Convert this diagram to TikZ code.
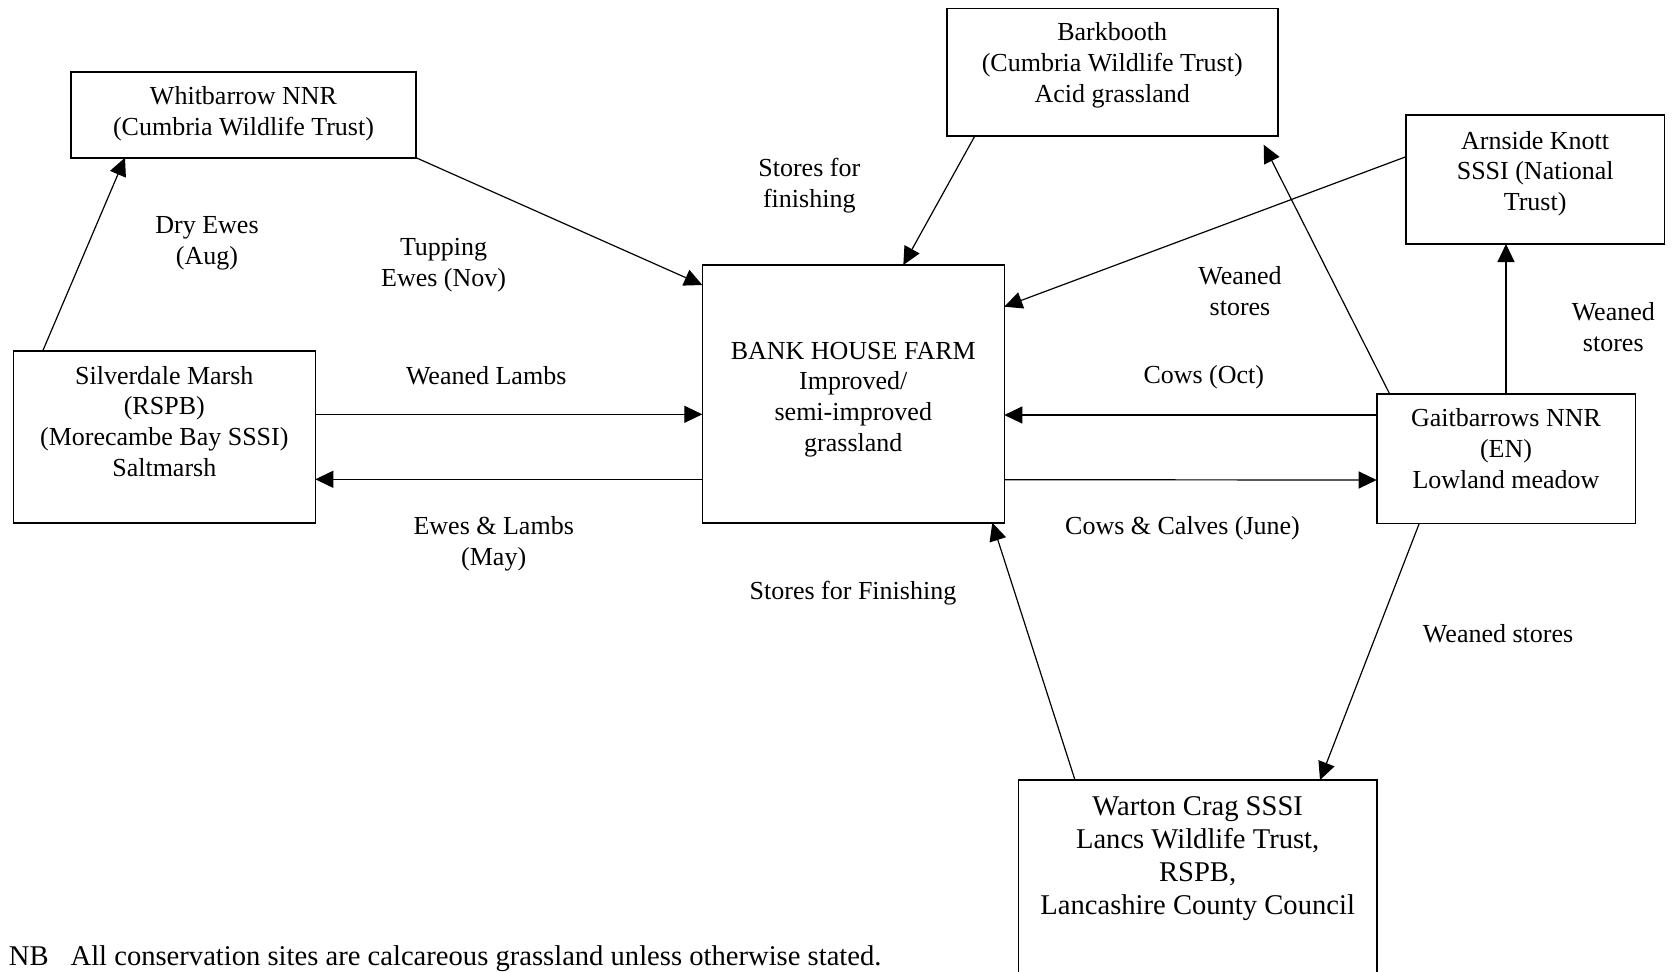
\documentclass[tikz,border=0pt]{standalone}
\usepackage{fontspec}
\setmainfont{Liberation Serif}
\usetikzlibrary{calc, arrows.meta}

% width, height, first baseline, lines
\newcommand{\sitebox}[4]{\parbox[c][#2][t]{#1}{\centering\rule{0pt}{#3}#4}}

\begin{document}
\begin{tikzpicture}
          [
            x=0.5pt, y=-0.5pt,
            site/.style={draw, line width=0.8pt, inner sep=0pt, outer sep=0pt,
              font=\fontsize{13}{15.35}\selectfont},
            bigsite/.style={site, font=\fontsize{14.3}{16.65}\selectfont},
            flowlabel/.style={align=center, inner sep=0pt,
              font=\fontsize{13}{15.35}\selectfont},
            flow/.style={line width=0.6pt, -{Triangle[length=9pt,width=8.5pt]}}
          ]
          \useasboundingbox (0,0) rectangle (1672,971);
          \clip (0,0) rectangle (1672,971);
          % sites
          \node [site] (whit) at (243.5,114.85)
            {\sitebox{172.5pt}{42.85pt}{16.3pt}{Whitbarrow NNR\\(Cumbria Wildlife Trust)}};
          \node [site] (bark) at (1112.2,72)
            {\sitebox{165.5pt}{63.7pt}{16.3pt}{Barkbooth\\(Cumbria Wildlife Trust)\\Acid grassland}};
          \node [site] (arn) at (1535.15,179.5)
            {\sitebox{129.15pt}{64.5pt}{17pt}{Arnside Knott\\SSSI (National\\Trust)}};
          \node [site] (silv) at (164.3,436.85)
            {\sitebox{151pt}{85.85pt}{16.6pt}{Silverdale Marsh\\(RSPB)\\(Morecambe Bay SSSI)\\Saltmarsh}};
          \node [site] (bank) at (853.3,393.85)
            {\sitebox{151pt}{128.85pt}{47pt}{BANK HOUSE FARM\\Improved/\\semi-improved\\grassland}};
          \node [site] (gait) at (1506,458.65)
            {\sitebox{129.3pt}{64.65pt}{16.4pt}{Gaitbarrows NNR\\(EN)\\Lowland meadow}};
          \node [bigsite] (wart) at (1197.65,910)
            {\sitebox{179.35pt}{130pt}{17.5pt}{Warton Crag SSSI\\Lancs Wildlife Trust,\\RSPB,\\Lancashire County Council}};
          % labels
          \node [flowlabel] (dry) at (207,243) {Dry Ewes\\(Aug)};
          \node [flowlabel] (tup) at (443.6,265.3) {Tupping\\Ewes (Nov)};
          \node [flowlabel] (fin) at (809.3,185.3) {Stores for\\finishing};
          \node [flowlabel] (wl) at (486.2,375.3) {Weaned Lambs};
          \node [flowlabel] (el) at (493.7,543.6) {Ewes \& Lambs\\(May)};
          \node [flowlabel] (finb) at (853,592.7) {Stores for Finishing};
          \node [flowlabel] (ws1) at (1240,291) {Weaned\\stores};
          \node [flowlabel] (oct) at (1203.8,377.3) {Cows (Oct)};
          \node [flowlabel] (june) at (1182.5,528.7) {Cows \& Calves (June)};
          \node [flowlabel] (ws2) at (1613.3,326.8) {Weaned\\stores};
          \node [flowlabel] (ws3) at (1498.1,633.4) {Weaned stores};
          \node [anchor=base west, inner sep=0pt, font=\fontsize{14.3}{16.65}\selectfont] (nb)
            at (8.5,965.5) {NB\hspace{11pt}All conservation sites are calcareous grassland unless otherwise stated.};
          % sheep flows
          \draw [flow] ($(silv.north west)+(29.4,0)$) -- ($(whit.south west)+(54,0)$);
          \draw [flow] (whit.south east) -- ($(bank.north west)+(0,20)$);
          \draw [flow] ($(silv.north east)+(0,63.3)$) -- ($(bank.north west)+(0,149.3)$);
          \draw [flow] ($(bank.south west)+(0,-43.4)$) -- ($(silv.south east)+(0,-43.4)$);
          % cattle flows
          \draw [flow] ($(bark.south west)+(28.3,0)$) -- ($(bank.north west)+(201,0)$);
          \draw [flow] ($(arn.north west)+(0,41.7)$) -- ($(bank.north east)+(0,41.7)$);
          \draw [flow] ($(gait.north west)+(13,0)$) -- ($(bark.south east)+(-14,9)$);
          \draw [flow] (gait.north) -- (gait.north |- arn.south);
          \draw [flow] ($(gait.north west)+(0,21)$) -- ($(bank.north east)+(0,150)$);
          \draw [flow] ($(bank.south east)+(0,-43)$) -- ($(gait.south west)+(0,-43.3)$);
          \draw [flow] ($(gait.south west)+(42.6,0)$) -- ($(wart.north east)+(-57,0)$);
          \draw [flow] ($(wart.north west)+(56.7,0)$) -- ($(bank.south east)+(-12,0)$);
        \end{tikzpicture}
\end{document}
